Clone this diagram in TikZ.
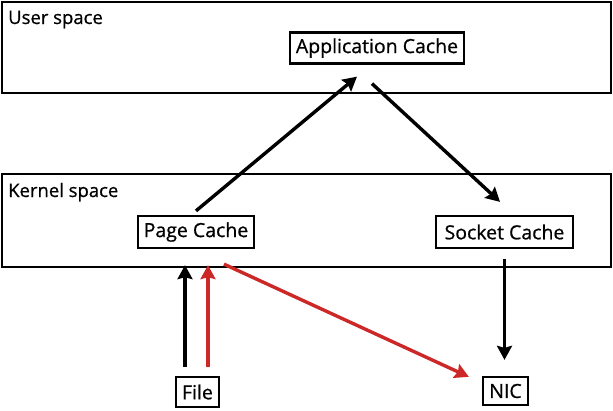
\documentclass[tikz,border=0pt]{standalone}
\usepackage{fontspec}
\setmainfont{Open Sans}
\newfontfamily\handfont[FakeBold=0.7]{Open Sans}
\usetikzlibrary{arrows.meta}
\definecolor{redline}{RGB}{204,40,40}
\tikzset{
  region/.style={draw=black, line width=2.3pt},
  cachebox/.style={draw=black, line width=2.3pt, fill=white, inner sep=0pt, font=\handfont\fontsize{19.5}{22}\selectfont},
  lbl/.style={anchor=base west, inner sep=0pt, font=\handfont\fontsize{18.5}{22}\selectfont},
  arr/.style={line width=3.4pt, -{Stealth[length=14pt,width=15pt,inset=2pt]}},
  redarr/.style={arr, draw=redline}
}
\begin{document}
\begin{tikzpicture}[x=1pt,y=-1pt]
\useasboundingbox (0,0) rectangle (613,410);
\draw[region] (2,2) rectangle (611,93);
\node[lbl] (ulabel) at (8,24) {User space};
\draw[region] (2,174) rectangle (611,267);
\node[lbl] (klabel) at (8,197) {Kernel space};

\node[cachebox, minimum width=174pt, minimum height=31pt] (app) at (377,48) {Application Cache};
\node[cachebox, minimum width=116pt, minimum height=32pt] (pc) at (196,232) {Page Cache};
\node[cachebox, minimum width=137pt, minimum height=32pt] (sc) at (504.5,232) {Socket Cache};
\node[cachebox, minimum width=43pt, minimum height=30pt] (file) at (197.5,392) {File};
\node[cachebox, minimum width=45pt, minimum height=28pt] (nic) at (505.5,391) {NIC};

\draw[arr] ([yshift=4pt]pc.north) -- ([xshift=-20pt,yshift=-12pt]app.south);
\draw[arr] ([xshift=-5pt,yshift=-19pt]app.south) -- ([xshift=-4.5pt,yshift=13pt]sc.north);
\draw[arr] ([yshift=-10pt]sc.south) -- ([xshift=-1pt,yshift=16pt]nic.north);
\draw[arr] ([xshift=-12.5pt,yshift=9pt]file.north) -- ([xshift=-11pt,yshift=-16pt]pc.south);
\draw[redarr] ([xshift=10.5pt,yshift=9pt]file.north) -- ([xshift=12pt,yshift=-16pt]pc.south);
\draw[redarr] ([xshift=28pt,yshift=-15pt]pc.south) -- ([xshift=-13pt,yshift=-1pt]nic.north west);
\end{tikzpicture}
\end{document}
